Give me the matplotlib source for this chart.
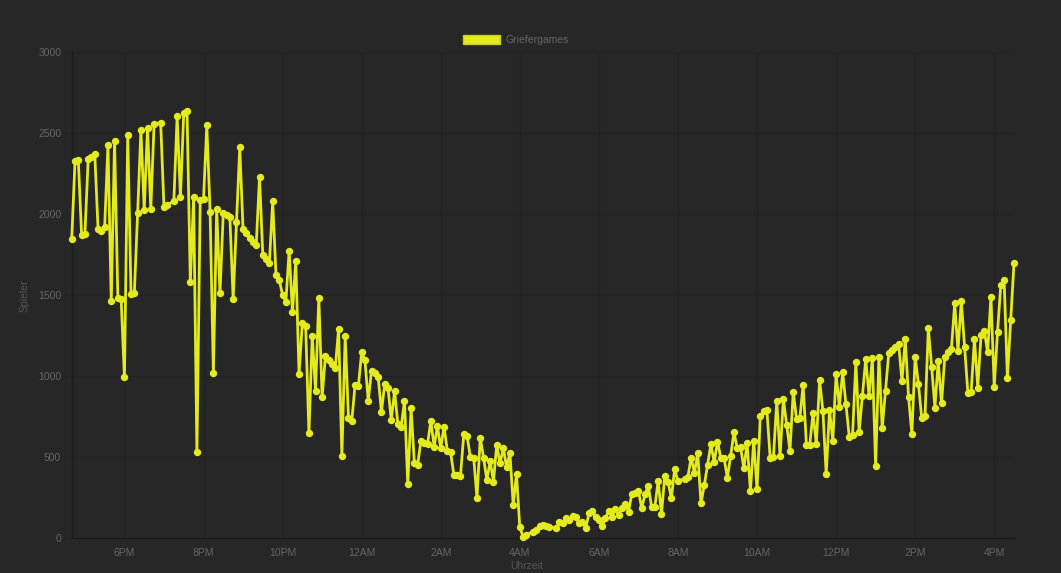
import matplotlib
matplotlib.use("Agg")
import matplotlib.pyplot as plt
import matplotlib.dates as mdates
from matplotlib.patches import Patch
from matplotlib.ticker import FuncFormatter
from datetime import datetime, timedelta

# ─────────────────────────────────────────────
# Data (player count, 5-minute samples)
# ─────────────────────────────────────────────
times = [
    "16:40", "16:45", "16:50", "16:55", "17:00", "17:05", "17:10", "17:15", "17:20", "17:25",
    "17:30", "17:35", "17:40", "17:45", "17:50", "17:55", "18:00", "18:05", "18:10", "18:15",
    "18:20", "18:25", "18:30", "18:35", "18:40", "18:45", "18:55", "19:00", "19:05", "19:15",
    "19:20", "19:25", "19:30", "19:35", "19:40", "19:45", "19:50", "19:55", "20:00", "20:05",
    "20:10", "20:15", "20:20", "20:25", "20:30", "20:35", "20:40", "20:45", "20:50", "20:55",
    "21:00", "21:05", "21:10", "21:15", "21:20", "21:25", "21:30", "21:35", "21:40", "21:45",
    "21:50", "21:55", "22:00", "22:05", "22:10", "22:15", "22:20", "22:25", "22:30", "22:35",
    "22:40", "22:45", "22:50", "22:55", "23:00", "23:05", "23:10", "23:15", "23:20", "23:25",
    "23:30", "23:35", "23:40", "23:45", "23:50", "23:55", "00:00", "00:05", "00:10", "00:15",
    "00:20", "00:25", "00:30", "00:35", "00:40", "00:45", "00:50", "00:55", "01:00", "01:05",
    "01:10", "01:15", "01:20", "01:25", "01:30", "01:35", "01:40", "01:45", "01:50", "01:55",
    "02:00", "02:05", "02:10", "02:15", "02:20", "02:25", "02:30", "02:35", "02:40", "02:45",
    "02:50", "02:55", "03:00", "03:05", "03:10", "03:15", "03:20", "03:25", "03:30", "03:35",
    "03:40", "03:45", "03:50", "03:55", "04:00", "04:05", "04:10", "04:20", "04:25", "04:30",
    "04:35", "04:40", "04:45", "04:55", "05:00", "05:05", "05:10", "05:15", "05:20", "05:25",
    "05:30", "05:35", "05:40", "05:45", "05:50", "05:55", "06:00", "06:05", "06:10", "06:15",
    "06:20", "06:25", "06:30", "06:35", "06:40", "06:45", "06:50", "06:55", "07:00", "07:05",
    "07:10", "07:15", "07:20", "07:25", "07:30", "07:35", "07:40", "07:45", "07:50", "07:55",
    "08:00", "08:10", "08:15", "08:20", "08:25", "08:30", "08:35", "08:40", "08:45", "08:50",
    "08:55", "09:00", "09:05", "09:10", "09:15", "09:20", "09:25", "09:30", "09:35", "09:40",
    "09:45", "09:50", "09:55", "10:00", "10:05", "10:10", "10:15", "10:20", "10:25", "10:30",
    "10:35", "10:40", "10:45", "10:50", "10:55", "11:00", "11:05", "11:10", "11:15", "11:20",
    "11:25", "11:30", "11:35", "11:40", "11:45", "11:50", "11:55", "12:00", "12:05", "12:10",
    "12:15", "12:20", "12:25", "12:30", "12:35", "12:40", "12:45", "12:50", "12:55", "13:00",
    "13:05", "13:10", "13:15", "13:20", "13:25", "13:30", "13:35", "13:40", "13:45", "13:50",
    "13:55", "14:00", "14:05", "14:10", "14:15", "14:20", "14:25", "14:30", "14:35", "14:40",
    "14:45", "14:50", "14:55", "15:00", "15:05", "15:10", "15:15", "15:20", "15:25", "15:30",
    "15:35", "15:40", "15:45", "15:50", "15:55", "16:00", "16:05", "16:10", "16:15", "16:20",
    "16:25", "16:30",
]

players = [
    1846, 2327, 2333, 1870, 1875, 2338, 2354, 2369, 1905, 1897,
    1922, 2426, 1461, 2453, 1484, 1475, 992, 2488, 1506, 1510,
    2004, 2519, 2025, 2533, 2029, 2556, 2564, 2041, 2054, 2082,
    2605, 2103, 2621, 2636, 1578, 2107, 529, 2086, 2090, 2548,
    2014, 1020, 2031, 1510, 2004, 1994, 1980, 1473, 1949, 2412,
    1905, 1881, 1850, 1829, 1809, 2227, 1747, 1720, 1700, 2078,
    1624, 1593, 1500, 1459, 1774, 1393, 1710, 1012, 1329, 1309,
    646, 1249, 909, 1484, 868, 1123, 1099, 1072, 1051, 1290,
    508, 1249, 743, 722, 944, 938, 1146, 1099, 846, 1033,
    1017, 996, 780, 949, 925, 728, 907, 702, 687, 846,
    331, 800, 465, 451, 601, 588, 578, 724, 564, 691,
    554, 687, 539, 529, 389, 389, 385, 640, 630, 498,
    496, 249, 619, 496, 358, 475, 348, 574, 461, 554,
    436, 527, 204, 393, 66, 8, 19, 39, 49, 74,
    80, 74, 70, 60, 97, 94, 122, 111, 138, 132,
    91, 101, 60, 152, 167, 128, 111, 74, 122, 167,
    132, 177, 142, 183, 210, 163, 272, 276, 292, 183,
    270, 321, 193, 193, 354, 148, 383, 348, 245, 424,
    352, 364, 375, 496, 403, 523, 214, 327, 451, 580,
    467, 595, 496, 492, 372, 506, 652, 554, 564, 430,
    585, 290, 601, 301, 753, 784, 790, 492, 502, 846,
    506, 858, 698, 539, 903, 733, 739, 944, 574, 574,
    770, 580, 975, 784, 395, 790, 601, 1010, 811, 1023,
    827, 625, 636, 1085, 656, 878, 1104, 879, 1109, 444,
    1119, 677, 909, 1144, 1160, 1181, 1195, 969, 1226, 868,
    642, 1119, 949, 739, 755, 1294, 1058, 804, 1094, 831,
    1119, 1146, 1165, 1449, 1156, 1465, 1181, 897, 903, 1228,
    928, 1253, 1280, 1146, 1490, 934, 1274, 1562, 1593, 990,
    1346, 1696,
]

SERIES_NAME = "Griefergames"
Y_TICKS = [0, 500, 1000, 1500, 2000, 2500, 3000]

# --- colours ---
BG = "#272727"
GRID = "#222222"
AXIS = "#1c1c1c"
TEXT = "#666666"
LINE = "#e3ea1e"
EDGE = "#c9cf14"

plt.rcParams["font.family"] = ["Liberation Sans", "DejaVu Sans"]

# --- turn HH:MM strings into datetimes (roll over at midnight) ---
base = datetime(2020, 1, 1)
stamps = []
day, prev = 0, None
for t in times:
    h, m = map(int, t.split(":"))
    if prev is not None and (h, m) < prev:
        day += 1
    prev = (h, m)
    stamps.append(base + timedelta(days=day, hours=h, minutes=m))

# ─────────────────────────────────────────────
# Figure
# ─────────────────────────────────────────────
fig = plt.figure(figsize=(10.61, 5.73), dpi=100, facecolor=BG)
ax = fig.add_axes([0.0676, 0.0611, 0.8881, 0.8481], facecolor=BG)

ax.plot(stamps, players, color=LINE, lw=2.0, marker="o", ms=4.3,
        markerfacecolor=LINE, markeredgecolor=LINE, zorder=3, clip_on=False)

ax.set_xlim(stamps[0], stamps[-1])
ax.set_ylim(0, 3000)
ax.set_yticks(Y_TICKS)

ax.xaxis.set_major_locator(mdates.HourLocator(byhour=range(0, 24, 2)))
ax.xaxis.set_major_formatter(
    FuncFormatter(lambda v, _: (lambda d: f"{(d.hour % 12) or 12}{'AM' if d.hour < 12 else 'PM'}")(mdates.num2date(v)))
)

ax.grid(True, color=GRID, lw=1)
ax.set_axisbelow(True)
for s in ["top", "right"]:
    ax.spines[s].set_visible(False)
for s in ["left", "bottom"]:
    ax.spines[s].set_color(AXIS)
    ax.spines[s].set_linewidth(1)

ax.tick_params(axis="y", colors=GRID, labelcolor=TEXT, labelsize=7.5, length=6.5, width=1, pad=1)
ax.tick_params(axis="x", colors=GRID, labelcolor=TEXT, labelsize=7.5, length=0, pad=7)

fig.text(0.0236, 1 - 296 / 573, "Spieler", rotation=90, color="#555555",
         fontsize=7.5, ha="center", va="center")
fig.text(527 / 1061, 1 - 566 / 573, "Uhrzeit", color="#555555",
         fontsize=7.5, ha="center", va="center")

handle = Patch(facecolor=LINE, edgecolor=EDGE, lw=1)
leg = fig.legend([handle], [SERIES_NAME], loc="center",
                 bbox_to_anchor=(516 / 1061, 1 - 40 / 573), frameon=False,
                 fontsize=7.5, handlelength=3.6, handleheight=1.05, handletextpad=0.5,
                 borderaxespad=0)
for txt in leg.get_texts():
    txt.set_color(TEXT)

fig.savefig("out.png", dpi=100, facecolor=BG)
